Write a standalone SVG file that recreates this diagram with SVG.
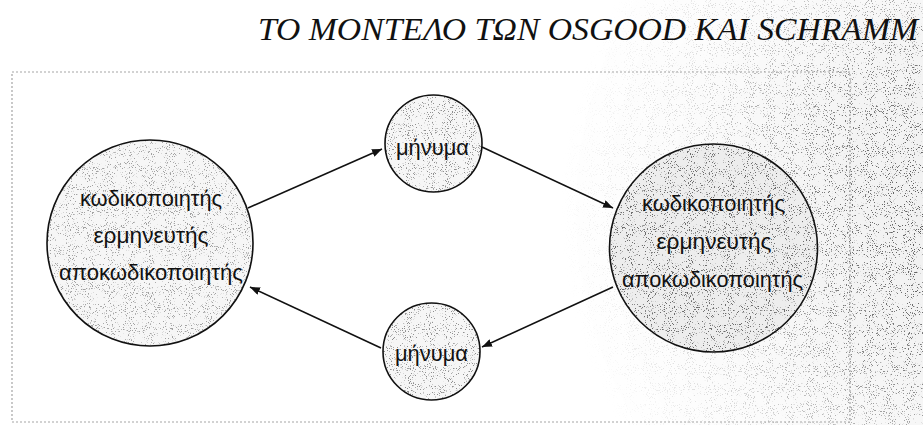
<svg xmlns="http://www.w3.org/2000/svg" width="923" height="425" viewBox="0 0 923 425">
  <defs>
    <style>
      .title { font-family: "Liberation Serif", "DejaVu Serif", serif; font-style: italic; font-size: 32px; fill: #111; }
      .lbl { font-family: "Liberation Sans", Arial, "DejaVu Sans", sans-serif; font-size: 22px; fill: #111; text-anchor: middle; }
      .node { stroke: #111; stroke-width: 1.6; }
      .conn { stroke: #111; stroke-width: 1.6; fill: none; marker-end: url(#arrow); }
      .panel { fill: none; stroke: #a5a5a5; stroke-width: 1.2; stroke-dasharray: 2 2; }
    </style>
    <marker id="arrow" viewBox="0 0 10 8" refX="10" refY="4" markerWidth="10" markerHeight="8" markerUnits="userSpaceOnUse" orient="auto">
      <path d="M0,0 L10,4 L0,8 Z" fill="#111"/>
    </marker>
    <filter id="grain" filterUnits="userSpaceOnUse" x="0" y="0" width="923" height="425" color-interpolation-filters="sRGB">
      <feTurbulence type="fractalNoise" baseFrequency="0.95" numOctaves="2" seed="7"/>
      <feColorMatrix type="matrix" values="0 0 0 0 0.3  0 0 0 0 0.3  0 0 0 0 0.3  12 0 0 0 -7.4"/>
    </filter>
    <radialGradient id="bgfade" gradientUnits="userSpaceOnUse" cx="980" cy="210" r="420">
      <stop offset="0" stop-color="#fff"/>
      <stop offset="0.4" stop-color="#bbb"/>
      <stop offset="0.7" stop-color="#444"/>
      <stop offset="1" stop-color="#000"/>
    </radialGradient>
    <mask id="bgmask">
      <rect width="923" height="425" fill="url(#bgfade)"/>
    </mask>
    <clipPath id="clipL"><circle cx="150" cy="243" r="103"/></clipPath>
    <clipPath id="clipR"><circle cx="713.5" cy="248" r="104"/></clipPath>
    <clipPath id="clipT"><circle cx="433.5" cy="143.5" r="48.5"/></clipPath>
    <clipPath id="clipB"><circle cx="431.5" cy="351.5" r="48.5"/></clipPath>
  </defs>

  <rect width="923" height="425" fill="#ffffff"/>
  <g id="texture" mask="url(#bgmask)">
    <rect width="923" height="425" fill="#f0f0f0"/>
    <rect width="923" height="425" filter="url(#grain)"/>
  </g>

  <g id="title">
    <text class="title" x="258" y="40" textLength="660" lengthAdjust="spacingAndGlyphs">ΤΟ ΜΟΝΤΕΛΟ ΤΩΝ OSGOOD ΚΑΙ SCHRAMM</text>
  </g>

  <g id="panel">
    <rect class="panel" x="12" y="72" width="838" height="350"/>
  </g>

  <g id="connectors">
    <line class="conn" x1="248" y1="208" x2="382" y2="149"/>
    <line class="conn" x1="482" y1="147" x2="613" y2="208"/>
    <line class="conn" x1="613" y1="287" x2="482" y2="347"/>
    <line class="conn" x1="381" y1="348" x2="250" y2="287"/>
  </g>

  <g id="node-left">
    <circle cx="150" cy="243" r="103" fill="#f6f6f6"/>
    <g clip-path="url(#clipL)" opacity="0.5"><rect width="923" height="425" filter="url(#grain)"/></g>
    <circle class="node" cx="150" cy="243" r="103" fill="none"/>
    <text class="lbl" x="151" y="206" textLength="142" lengthAdjust="spacingAndGlyphs">κωδικοποιητής</text>
    <text class="lbl" x="151" y="243" textLength="115" lengthAdjust="spacingAndGlyphs">ερμηνευτής</text>
    <text class="lbl" x="151" y="280" textLength="184" lengthAdjust="spacingAndGlyphs">αποκωδικοποιητής</text>
  </g>

  <g id="node-right">
    <circle cx="713.5" cy="248" r="104" fill="#ededed"/>
    <g clip-path="url(#clipR)" opacity="0.8"><rect width="923" height="425" filter="url(#grain)"/></g>
    <circle class="node" cx="713.5" cy="248" r="104" fill="none"/>
    <text class="lbl" x="713.5" y="211" textLength="143" lengthAdjust="spacingAndGlyphs">κωδικοποιητής</text>
    <text class="lbl" x="714" y="249" textLength="115" lengthAdjust="spacingAndGlyphs">ερμηνευτής</text>
    <text class="lbl" x="712.5" y="287" textLength="181" lengthAdjust="spacingAndGlyphs">αποκωδικοποιητής</text>
  </g>

  <g id="node-msg-top">
    <circle cx="433.5" cy="143.5" r="48.5" fill="#f6f6f6"/>
    <g clip-path="url(#clipT)" opacity="0.6"><rect width="923" height="425" filter="url(#grain)"/></g>
    <circle class="node" cx="433.5" cy="143.5" r="48.5" fill="none"/>
    <text class="lbl" x="432.5" y="155" textLength="73" lengthAdjust="spacingAndGlyphs">μήνυμα</text>
  </g>

  <g id="node-msg-bottom">
    <circle cx="431.5" cy="351.5" r="48.5" fill="#f6f6f6"/>
    <g clip-path="url(#clipB)" opacity="0.6"><rect width="923" height="425" filter="url(#grain)"/></g>
    <circle class="node" cx="431.5" cy="351.5" r="48.5" fill="none"/>
    <text class="lbl" x="431.5" y="361" textLength="73" lengthAdjust="spacingAndGlyphs">μήνυμα</text>
  </g>
</svg>
